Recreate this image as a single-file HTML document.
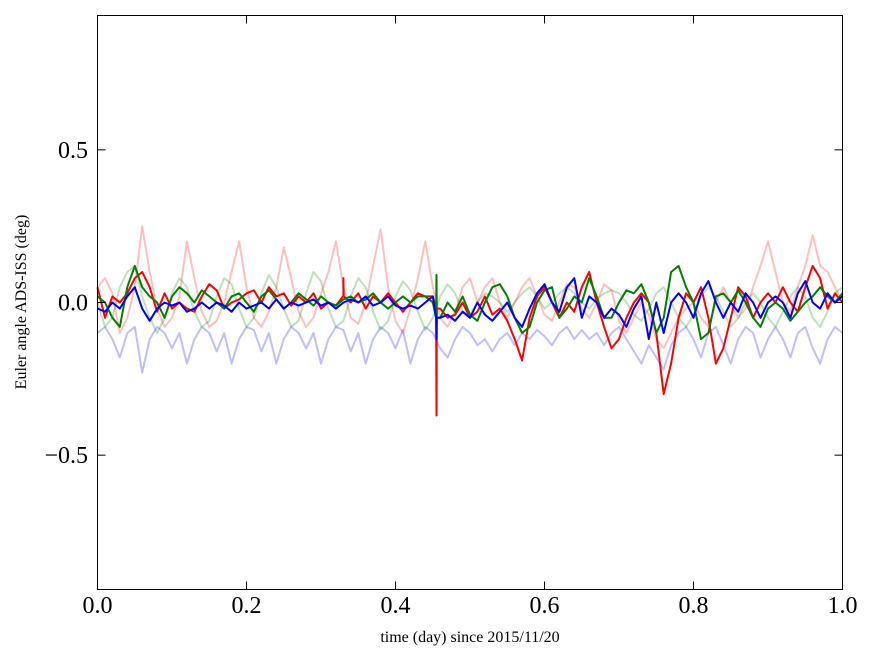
<!DOCTYPE html>
<html><head><meta charset="utf-8"><style>
body{margin:0;background:#fff;}
svg{display:block;font-family:"Liberation Serif",serif;}
</style></head><body>
<svg id="chart" width="875" height="662" viewBox="0 0 875 662" xmlns="http://www.w3.org/2000/svg">
<rect width="875" height="662" fill="#fff"/>
<g id="series"></g>
<rect x="97.5" y="15.5" width="745" height="574" fill="none" stroke="#000" stroke-width="1"/>
<g id="axes"></g>
<text x="470" y="642" font-size="16" text-anchor="middle">time (day) since 2015/11/20</text>
<text transform="translate(26,302) rotate(-90)" font-size="16" text-anchor="middle">Euler angle ADS-ISS (deg)</text>
</svg>
<script>
const xTicks=[0,0.2,0.4,0.6,0.8,1.0];
const xTickLabels=["0.0","0.2","0.4","0.6","0.8","1.0"];
const yTicks=[0.5,0,-0.5];
const yTickLabels=["0.5","0.0","\u22120.5"];
const pinkFaded=[0.05,0.08,0.03,-0.1,-0.05,0.05,0.25,0.1,-0.02,-0.08,-0.05,0.02,0.2,0.08,-0.03,-0.08,-0.06,0.0,0.1,0.2,0.05,-0.05,-0.08,-0.03,0.05,0.18,0.08,-0.03,-0.08,-0.05,0.03,0.1,0.2,0.05,-0.05,-0.07,0.0,0.12,0.24,0.05,-0.06,-0.1,-0.02,0.08,0.2,0.05,-0.05,-0.08,-0.03,0.05,0.08,0.0,0.05,0.08,0.0,-0.05,0.0,0.05,0.08,0.02,-0.04,-0.06,0.0,0.06,0.05,-0.02,-0.05,0.0,0.06,0.04,-0.06,-0.1,-0.05,0.0,-0.04,-0.12,-0.15,-0.1,-0.05,-0.02,0.0,-0.05,-0.08,0.0,0.05,0.0,-0.05,-0.02,0.05,0.12,0.2,0.1,0.0,-0.03,0.05,0.12,0.22,0.12,0.1,0.05,0.0];
const blueFaded=[-0.1,-0.08,-0.12,-0.18,-0.1,-0.08,-0.23,-0.12,-0.08,-0.1,-0.15,-0.1,-0.2,-0.12,-0.08,-0.1,-0.16,-0.1,-0.2,-0.12,-0.08,-0.09,-0.16,-0.1,-0.2,-0.12,-0.08,-0.1,-0.15,-0.1,-0.2,-0.12,-0.08,-0.09,-0.16,-0.1,-0.2,-0.12,-0.08,-0.1,-0.15,-0.09,-0.2,-0.12,-0.08,-0.1,-0.15,-0.18,-0.12,-0.08,-0.1,-0.14,-0.12,-0.16,-0.12,-0.1,-0.14,-0.1,-0.12,-0.09,-0.11,-0.14,-0.1,-0.08,-0.12,-0.09,-0.12,-0.1,-0.14,-0.1,-0.08,-0.12,-0.16,-0.2,-0.14,-0.18,-0.22,-0.14,-0.1,-0.08,-0.12,-0.18,-0.1,-0.08,-0.14,-0.2,-0.12,-0.08,-0.1,-0.18,-0.12,-0.08,-0.12,-0.18,-0.1,-0.08,-0.15,-0.2,-0.12,-0.08,-0.1];
const greenFaded=[0.0,-0.08,-0.05,0.05,0.1,0.12,0.02,-0.05,-0.1,-0.05,0.03,0.08,0.05,-0.03,-0.08,-0.06,0.02,0.08,0.06,-0.02,-0.08,-0.05,0.03,0.09,0.05,-0.02,-0.08,-0.06,0.03,0.1,0.07,-0.02,-0.08,-0.06,0.02,0.08,0.05,-0.03,-0.09,-0.06,0.02,0.07,0.04,-0.03,-0.09,-0.05,0.02,0.06,0.03,-0.03,-0.04,0.0,0.03,0.02,0.0,-0.03,0.0,0.03,0.05,0.02,-0.02,0.0,0.03,0.05,0.03,0.0,-0.02,0.01,0.03,0.04,0.03,0.0,-0.04,-0.06,-0.02,0.03,0.05,0.0,-0.05,-0.08,-0.04,0.02,0.05,0.02,-0.03,-0.08,-0.05,0.0,0.03,0.0,-0.05,-0.08,-0.03,0.02,0.05,0.02,-0.05,-0.08,-0.03,0.03,0.05];
const redSolid=[0.05,-0.05,0.02,0.0,0.03,0.08,0.1,0.05,-0.03,0.03,-0.02,0.0,-0.02,-0.03,0.02,0.06,0.04,-0.02,0.0,0.01,0.03,0.04,0.0,0.05,0.02,0.03,-0.01,0.02,0.0,0.03,-0.02,0.0,-0.01,0.02,0.0,0.03,-0.02,0.02,0.0,0.03,0.0,-0.03,0.0,0.03,0.02,0.02,-0.02,-0.05,-0.04,0.0,-0.05,-0.03,0.02,-0.04,-0.02,-0.06,-0.12,-0.19,-0.05,0.02,0.05,0.0,-0.05,0.0,-0.03,0.05,0.1,0.0,-0.08,-0.15,-0.12,-0.05,0.0,0.03,0.0,-0.1,-0.3,-0.2,-0.05,0.03,0.0,0.05,-0.05,-0.2,-0.15,-0.05,0.05,0.02,-0.05,0.0,0.03,0.0,0.05,0.0,-0.03,0.05,0.12,0.08,-0.02,0.03,0.0];
const greenSolid=[0.02,0.0,-0.05,-0.08,0.05,0.12,0.05,0.02,0.0,-0.05,0.02,0.05,0.03,0.0,0.04,0.02,0.0,-0.02,0.02,0.03,0.0,-0.03,0.02,0.04,0.01,-0.02,0.0,0.03,0.01,-0.01,0.02,0.0,-0.01,0.01,0.02,0.0,0.01,0.03,0.0,-0.02,0.0,0.02,0.0,0.02,0.02,0.0,-0.05,0.0,-0.03,0.02,-0.04,-0.06,0.0,0.05,0.06,0.02,-0.05,-0.1,-0.08,0.0,0.04,0.05,-0.05,-0.02,0.02,0.0,0.08,0.02,-0.05,-0.05,0.0,0.04,0.03,0.06,0.0,-0.1,-0.05,0.1,0.12,0.05,0.0,-0.12,-0.1,0.02,0.03,0.0,0.04,0.0,-0.05,-0.08,-0.02,0.0,-0.02,-0.06,-0.03,0.0,0.02,0.05,0.02,0.0,0.03];
const blueSolid=[-0.02,-0.03,0.0,-0.02,0.02,0.05,-0.02,-0.06,-0.02,0.0,-0.01,0.0,-0.03,-0.02,0.0,-0.02,0.0,-0.01,-0.03,0.0,-0.02,-0.01,0.0,-0.02,0.01,-0.02,0.0,-0.01,0.0,0.01,-0.01,0.0,-0.02,0.0,0.01,0.0,0.02,-0.01,0.0,0.02,-0.01,-0.02,-0.01,-0.02,0.0,0.02,-0.05,-0.04,-0.06,-0.03,-0.05,0.0,-0.04,-0.06,-0.03,0.0,-0.05,-0.08,-0.02,0.03,0.06,0.0,-0.03,0.05,0.08,-0.05,0.02,0.0,-0.05,-0.02,-0.04,-0.08,-0.02,0.02,-0.12,0.0,-0.1,0.0,0.03,0.0,-0.05,0.03,0.07,0.0,-0.05,0.0,-0.03,0.03,0.0,-0.05,0.0,0.02,0.0,-0.05,0.03,0.07,0.0,-0.02,0.03,0.0,0.02];
const spikeTimes=[0.33,0.455];
const redSpikes=[0.08,-0.37];
const greenSpikes=[0.0,0.09];
const blueSpikes=[0.0,-0.12];

const X0=97.5,X1=842.5,Y0=15.5,Y1=589.5,YMIN=-0.94,YMAX=0.94;
function xs(v){return X0+(v-0)/(1-0)*(X1-X0);}
function ys(v){return Y1-(v-YMIN)/(YMAX-YMIN)*(Y1-Y0);}
const NS="http://www.w3.org/2000/svg";
const sg=document.getElementById('series');
function pts(vals,sp){
  const arr=vals.map((v,i)=>[i/(vals.length-1),v]);
  if(sp){spikeTimes.forEach((t,k)=>{if(sp[k]!==0){arr.push([t-0.0005,vals[Math.round(t*100)]]);arr.push([t,sp[k]]);arr.push([t+0.0005,vals[Math.round(t*100)]]);}});}
  arr.sort((a,b)=>a[0]-b[0]);
  return arr.map(p=>xs(p[0]).toFixed(1)+','+ys(p[1]).toFixed(1)).join(' ');
}
function line(name,vals,color,op,sp){
  const p=document.createElementNS(NS,'polyline');
  
  
  p.setAttribute('points',pts(vals,sp));
  p.setAttribute('fill','none');p.setAttribute('stroke',color);
  p.setAttribute('stroke-width','2');p.setAttribute('stroke-opacity',op);
  p.setAttribute('stroke-linejoin','round');
  sg.appendChild(p);
}
line('pink-faded-line',pinkFaded,'#ff0000',0.25);
line('blue-faded-line',blueFaded,'#0000ff',0.25);
line('green-faded-line',greenFaded,'#008000',0.25);
line('red-line',redSolid,'#ff0000',1,redSpikes);
line('green-line',greenSolid,'#008000',1,greenSpikes);
line('blue-line',blueSolid,'#0000ff',1,blueSpikes);

const ax=document.getElementById('axes');
xTicks.forEach((t,i)=>{
  const x=xs(t);
  [[Y1,Y1-8],[Y0,Y0+8]].forEach(([a,b])=>{
    const l=document.createElementNS(NS,'line');
    
    
    l.setAttribute('x1',x);l.setAttribute('x2',x);l.setAttribute('y1',a);l.setAttribute('y2',b);l.setAttribute('stroke','#000');ax.appendChild(l);
  });
  const tx=document.createElementNS(NS,'text');
  
  
  tx.setAttribute('x',x);tx.setAttribute('y',613);tx.setAttribute('font-size','24');tx.setAttribute('text-anchor','middle');
  tx.textContent=xTickLabels[i];ax.appendChild(tx);
});
yTicks.forEach((t,i)=>{
  const y=ys(t);
  [[X0,X0+8],[X1,X1-8]].forEach(([a,b])=>{
    const l=document.createElementNS(NS,'line');
    
    
    l.setAttribute('x1',a);l.setAttribute('x2',b);l.setAttribute('y1',y);l.setAttribute('y2',y);l.setAttribute('stroke','#000');ax.appendChild(l);
  });
  const tx=document.createElementNS(NS,'text');
  
  
  tx.setAttribute('x',88);tx.setAttribute('y',y+8);tx.setAttribute('font-size','24');tx.setAttribute('text-anchor','end');
  tx.textContent=yTickLabels[i];ax.appendChild(tx);
});
</script>
</body></html>
